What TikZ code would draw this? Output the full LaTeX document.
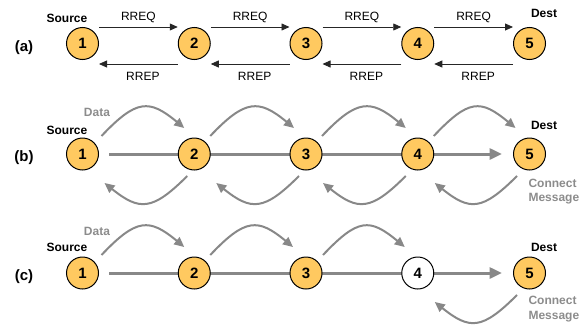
\documentclass[tikz,border=0pt]{standalone}
\usepackage{fontspec}
\setmainfont{Liberation Sans}
\usetikzlibrary{arrows.meta,calc,backgrounds}
\definecolor{nodefill}{RGB}{255,201,96}
\definecolor{flowgray}{RGB}{136,136,136}
\definecolor{notegray}{RGB}{140,140,140}

% data hop drawn above the chain: #1 sender, #2 receiver,
% #3 x offset at the sender, #4 x offset at the receiver
\newcommand\hopup[4]{%
  \draw[hopflow] ($(#1)+(#3,-18)$) .. controls ($(#1)+(#3+35,-55)$) and ($(#2)+(#4-35,-55)$) .. ($(#2)+(#4,-26)$);}
% connect message drawn below the chain, same arguments
\newcommand\hopdown[4]{%
  \draw[hopflow] ($(#1)+(#3,22)$) .. controls ($(#1)+(#3-35,57)$) and ($(#2)+(#4+35,57)$) .. ($(#2)+(#4,29)$);}

\begin{document}
\begin{tikzpicture}[x=1pt,y=-1pt,
  hop/.style={circle,draw=black,line width=1pt,fill=nodefill,minimum size=32pt,
    inner sep=0pt,font=\fontsize{15}{15}\selectfont\bfseries},
  idle/.style={hop,fill=white},
  rowlabel/.style={font=\fontsize{15}{15}\selectfont\bfseries,anchor=base,inner sep=0pt},
  role/.style={font=\fontsize{12}{12}\selectfont\bfseries,anchor=base,inner sep=0pt},
  msglabel/.style={font=\fontsize{12}{12}\selectfont,anchor=base,inner sep=0pt},
  note/.style={font=\fontsize{12}{12}\selectfont\bfseries,text=notegray,anchor=base west,inner sep=0pt},
  msg/.style={draw=black!85,line width=0.8pt,-{Triangle[length=8pt,width=7pt]}},
  trunk/.style={draw=flowgray,line width=3pt,-{Triangle[length=12.5pt,width=11pt]}},
  hopflow/.style={draw=flowgray,line width=2pt,-{Triangle[length=10pt,width=9pt]}},
]
\useasboundingbox (0,0) rectangle (585,324);

% ---------- nodes of the three chains ----------
\foreach \i/\x in {1/82.5,2/194.25,3/306,4/417.75,5/529.5}{
  \node[hop] (a\i) at (\x,43.5) {\i};
  \node[hop] (b\i) at (\x,154) {\i};
}
\foreach \i/\x in {1/82.5,2/194.25,3/306,5/529.5}{
  \node[hop] (c\i) at (\x,273) {\i};
}
\node[idle] (c4) at (417.75,273) {4};

% ---------- (a) route request / route reply ----------
\node[rowlabel] (la) at (24,51) {(a)};
\node[role] (srca) at (67,22) {Source};
\node[role] (dsta) at (544,17.3) {Dest};
\foreach \i/\j in {1/2,2/3,3/4,4/5}{
  \draw[msg] (a\i.north -| a\i.east) -- (a\j.north -| a\j.west)
    node[msglabel,pos=0.5,yshift=6.4pt] (rq\i) {RREQ};
  \draw[msg] ($(a\j.south -| a\j.west)+(0,4)$) -- ($(a\i.south -| a\i.east)+(0,4)$)
    node[msglabel,pos=0.5,yshift=-16.3pt,xshift=4.5pt] (rp\i) {RREP};
}

% ---------- (b) data path and connect messages ----------
\node[rowlabel] (lb) at (24,161.5) {(b)};
\node[role] (srcb) at (67,134.3) {Source};
\node[note,anchor=base] (datb) at (97,116.3) {Data};
\node[role] (dstb) at (544,129.3) {Dest};
\node[note] (conb) at (528.3,187.3) {Connect};
\node[note] (mesb) at (528.3,201.3) {Message};
\begin{scope}[on background layer]
  \draw[trunk] ($(b1.east)+(10,0)$) -- ($(b5.west)+(-11,0)$);
\end{scope}
\hopup{b1}{b2}{19}{-10}
\hopup{b2}{b3}{16}{-12}
\hopup{b3}{b4}{16}{-12}
\hopup{b4}{b5}{16}{-14}
\hopdown{b2}{b1}{-7}{22}
\hopdown{b3}{b2}{-7}{22}
\hopdown{b4}{b3}{-12}{17}
\hopdown{b5}{b4}{-12.5}{17}

% ---------- (c) node 4 not yet joined ----------
\node[rowlabel] (lc) at (24,280.5) {(c)};
\node[role] (srcc) at (67,251.3) {Source};
\node[note,anchor=base] (datc) at (97,235.3) {Data};
\node[role] (dstc) at (544,251) {Dest};
\node[note] (conc) at (528.3,304.3) {Connect};
\node[note] (mesc) at (528.3,319.3) {Message};
\begin{scope}[on background layer]
  \draw[trunk] ($(c1.east)+(10,0)$) -- ($(c5.west)+(-11,0)$);
\end{scope}
\hopup{c1}{c2}{19}{-10}
\hopup{c2}{c3}{16}{-13}
\hopup{c3}{c4}{17}{-13}
\hopdown{c5}{c4}{-12.5}{17}
\end{tikzpicture}
\end{document}
